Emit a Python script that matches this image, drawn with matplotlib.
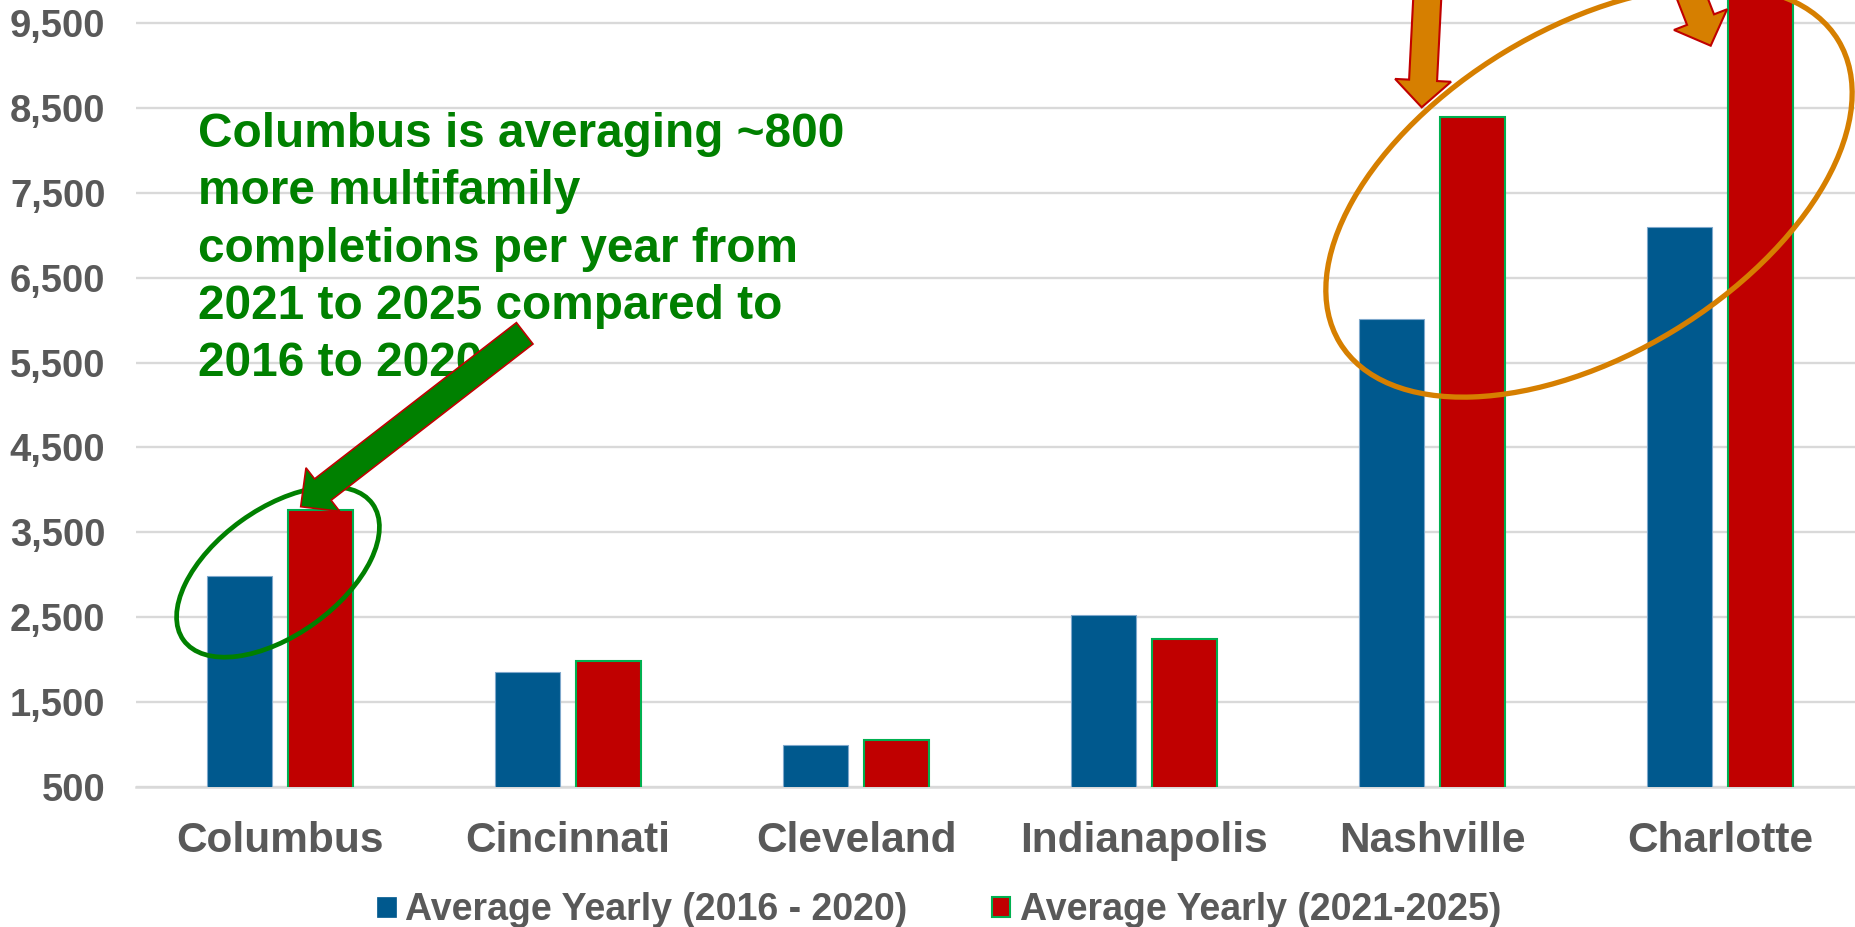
import numpy as np
import matplotlib
matplotlib.use("Agg")
import matplotlib.pyplot as plt
from matplotlib.patches import Ellipse, FancyArrow, Patch
from matplotlib.transforms import Affine2D
from matplotlib.ticker import FuncFormatter

# ---- data -------------------------------------------------------------
cities = ["Columbus", "Cincinnati", "Cleveland", "Indianapolis", "Nashville", "Charlotte"]
avg_2016_2020 = [2990, 1855, 995, 2525, 6010, 7090]
avg_2021_2025 = [3765, 1990, 1055, 2240, 8390, 10300]
series_labels = ["Average Yearly (2016 - 2020)", "Average Yearly (2021-2025)"]
y_ticks = [500, 1500, 2500, 3500, 4500, 5500, 6500, 7500, 8500, 9500]
callout_text = ("Columbus is averaging ~800\n"
                "more multifamily\n"
                "completions per year from\n"
                "2021 to 2025 compared to\n"
                "2016 to 2020.")

# ---- style ------------------------------------------------------------
BLUE = "#00598E"
BLUE_EDGE = "#7FA8CC"
RED = "#C00000"
RED_EDGE = "#00B050"
GRAY = "#595959"
GRID = "#D9D9D9"
GREEN = "#008000"
ORANGE = "#D67F00"

W, H, DPI = 1855, 927, 100
plt.rcParams["font.family"] = ["Liberation Sans", "DejaVu Sans"]
plt.rcParams["font.weight"] = "bold"

fig = plt.figure(figsize=(W / DPI, H / DPI), dpi=DPI)
fig.patch.set_facecolor("white")

# axes box in pixels (left, bottom, width, height)
ax = fig.add_axes([136 / W, 139.7 / H, 1728 / W, 787.3 / H])

x = np.arange(len(cities))
bar_w = 0.224
offset = 0.1405
ax.bar(x - offset, avg_2016_2020, bar_w, color=BLUE, edgecolor=BLUE_EDGE,
       linewidth=0.8, zorder=3, label=series_labels[0])
ax.bar(x + offset, avg_2021_2025, bar_w, color=RED, edgecolor=RED_EDGE,
       linewidth=1.5, zorder=3, label=series_labels[1])

ax.set_xlim(-0.5, len(cities) - 0.5)
ax.set_ylim(500, 9767)
ax.set_yticks(y_ticks)
ax.yaxis.set_major_formatter(FuncFormatter(lambda v, p: f"{int(v):,}"))
ax.set_xticks(x, cities)

ax.grid(axis="y", color=GRID, linewidth=1.7, zorder=0)
ax.grid(axis="x", visible=False)
ax.set_axisbelow(True)
ax.axhline(500, color=GRID, linewidth=1.8, clip_on=False, zorder=2)
for s in ax.spines.values():
    s.set_visible(False)
ax.tick_params(axis="y", length=0, pad=22.0, labelsize=27.5, labelcolor=GRAY)
ax.tick_params(axis="x", length=0, pad=24.5, labelsize=30.5, labelcolor=GRAY)

# ---- legend -----------------------------------------------------------
handles = [Patch(facecolor=BLUE, edgecolor=BLUE, linewidth=0.5),
           Patch(facecolor=RED, edgecolor=RED_EDGE, linewidth=1.5)]
fig.legend(handles, series_labels, loc="lower left",
           bbox_to_anchor=(377.3 / W, -1.0 / H), ncol=2, frameon=False,
           fontsize=27, labelcolor=GRAY, handlelength=0.5, handleheight=0.44,
           handletextpad=0.25, columnspacing=2.24, borderpad=0, borderaxespad=0)

# ---- callouts (drawn in pixel space, origin at top-left) -------------
px = Affine2D().scale(1, -1).translate(0, H)

# multi-line text: the baseline anchor refers to its last line
fig.text(198 / W, 1 - 376 / H, callout_text, ha="left", va="baseline",
         fontsize=34.4, color=GREEN, linespacing=1.35, zorder=3)

fig.add_artist(Ellipse((278, 572), 233, 126, angle=-35.8, transform=px,
                       fill=False, edgecolor=GREEN, linewidth=3.4, zorder=2))
fig.add_artist(Ellipse((1589, 191.5), 583, 326, angle=-31.25, transform=px,
                       fill=False, edgecolor=ORANGE, linewidth=3.8, zorder=2))


def block_arrow(tail, tip, width, head_width, head_length, face, lw):
    fig.add_artist(FancyArrow(tail[0], tail[1], tip[0] - tail[0], tip[1] - tail[1],
                              width=width, head_width=head_width,
                              head_length=head_length, length_includes_head=True,
                              transform=px, facecolor=face, edgecolor=RED,
                              linewidth=lw, zorder=4))


block_arrow((524.7, 333.3), (300.7, 506.7), 27, 55, 28, GREEN, 1.2)
block_arrow((1428.7, -30), (1421.7, 107.3), 28, 56, 27, ORANGE, 1.5)
block_arrow((1677.3, -40), (1710.7, 45.7), 29, 57, 28, ORANGE, 1.5)

fig.savefig("out.png", dpi=DPI, facecolor="white")
